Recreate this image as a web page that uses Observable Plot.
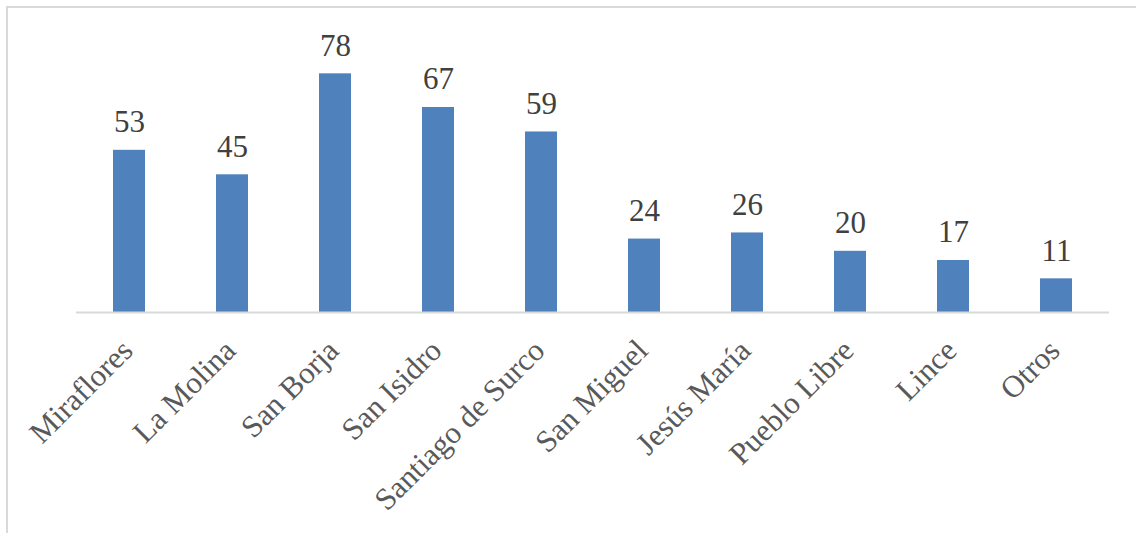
<!DOCTYPE html>
<html>
<head>
<meta charset="utf-8">
<script src="https://cdn.jsdelivr.net/npm/d3@7"></script>
<script src="https://cdn.jsdelivr.net/npm/@observablehq/plot@0.6"></script>
<style>
  html, body { margin: 0; padding: 0; background: #fff; overflow: hidden; }
  #wrap { position: relative; width: 1136px; height: 533px; overflow: hidden; }
  #border { position: absolute; left: 6px; top: 6px; width: 2000px; height: 2000px;
            border-top: 2px solid #d9d9d9; border-left: 2px solid #d9d9d9; pointer-events: none; }
  svg { position: absolute; left: 0; top: 0; }
</style>
</head>
<body>
<div id="wrap"><div id="border"></div></div>
<script>
const categories = ["Miraflores", "La Molina", "San Borja", "San Isidro", "Santiago de Surco",
                    "San Miguel", "Jesús María", "Pueblo Libre", "Lince", "Otros"];
const values = [53, 45, 78, 67, 59, 24, 26, 20, 17, 11];

const data = categories.map((c, i) => ({category: c, value: values[i]}));
const font = "'Liberation Serif', 'Times New Roman', serif";

const chart = Plot.plot({
  width: 1136,
  height: 533,
  marginLeft: 76,
  marginRight: 27,
  marginTop: 6,
  marginBottom: 221,
  style: {fontFamily: font, background: "transparent"},
  x: {domain: categories, paddingInner: 0.69, paddingOuter: 0.345, axis: null},
  y: {domain: [0, 100], axis: null},
  marks: [
    Plot.barY(data, {x: "category", y: "value", fill: "#4F81BD"}),
    Plot.ruleY([0], {stroke: "#d9d9d9", strokeWidth: 2}),
    Plot.text(data, {x: "category", y: "value", text: d => String(d.value),
      lineAnchor: "bottom", dy: -18, fontSize: 31, fill: "#404040", fontFamily: font}),
    Plot.text(data, {x: "category", y: () => 0, text: "category",
      rotate: -45, textAnchor: "end", lineAnchor: "bottom", dx: 5, dy: 40,
      fontSize: 31, fill: "#595959", fontFamily: font})
  ]
});
document.getElementById("wrap").appendChild(chart);
</script>
</body>
</html>
